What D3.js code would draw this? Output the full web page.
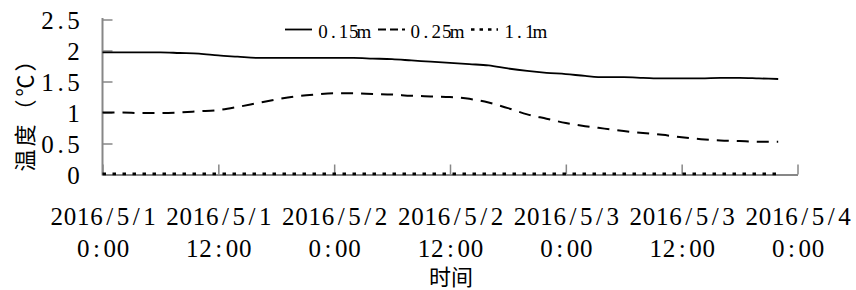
<!DOCTYPE html>
<html>
<head>
<meta charset="utf-8">
<script src="https://cdn.jsdelivr.net/npm/d3@7"></script>
<style>
html, body { margin: 0; padding: 0; background: #fff; }
svg { display: block; }
</style>
</head>
<body>
<svg id="chart" width="856" height="290"></svg>
<script>
// ---- data ----
const hours = [0,2,4,6,8,10,12,14,16,18,20,22,24,26,28,30,32,34,36,38,40,42,44,46,48,50,52,54,56,58,60,62,64,66,68,70];
const series015 = [1.97,1.97,1.97,1.97,1.96,1.95,1.92,1.90,1.88,1.88,1.88,1.88,1.88,1.88,1.87,1.86,1.84,1.82,1.80,1.78,1.76,1.71,1.67,1.64,1.62,1.59,1.57,1.57,1.56,1.55,1.55,1.55,1.56,1.56,1.55,1.54];
const series025 = [1.00,1.00,0.99,0.99,1.00,1.02,1.04,1.09,1.15,1.21,1.26,1.29,1.31,1.31,1.30,1.29,1.27,1.26,1.25,1.22,1.16,1.07,0.97,0.90,0.83,0.78,0.74,0.70,0.67,0.64,0.60,0.57,0.55,0.54,0.53,0.53];
const series110 = [0.01,0.01,0.01,0.01,0.01,0.01,0.01,0.01,0.01,0.01,0.01,0.01,0.01,0.01,0.01,0.01,0.01,0.01,0.01,0.01,0.01,0.01,0.01,0.01,0.01,0.01,0.01,0.01,0.01,0.01,0.01,0.01,0.01,0.01,0.01,0.01];
const seriesNames = ["0.15m","0.25m","1.1m"];
const xTickHours = [0,12,24,36,48,60,72];
const xTickDates = ["2016/5/1","2016/5/1","2016/5/2","2016/5/2","2016/5/3","2016/5/3","2016/5/4"];
const xTickTimes = ["0:00","12:00","0:00","12:00","0:00","12:00","0:00"];
const yTicks = [0,0.5,1,1.5,2,2.5];
const yTickLabels = ["0","0.5","1","1.5","2","2.5"];
const yTitle = "温度（℃）";
const xTitle = "时间";

// ---- layout ----
const SERIF = "Liberation Serif";
const CJK = "Noto Sans CJK SC";
const svg = d3.select("#chart");
const x = d3.scaleLinear().domain([0,72]).range([102.5,797.5]);
const y = d3.scaleLinear().domain([0,2.5]).range([174.5,19.5]);
const axisColor = "#878787";

// place each character in a fixed-width cell (half-width grid like the original font)
function gridX(str, left, cell) {
  return Array.from(str).map((c,i) => (left + (i + 0.5) * cell).toFixed(2)).join(" ");
}

// y axis
const yAxis = d3.axisLeft(y).tickValues(yTicks).tickSizeInner(-10).tickSizeOuter(0).tickFormat("");
const gy = svg.append("g").attr("transform","translate(102.5,0)").call(yAxis);
gy.attr("font-family",null).attr("font-size",null);
gy.select(".domain").attr("stroke",axisColor).attr("stroke-width",2).attr("d","M0,18V175.5");
gy.selectAll(".tick line").attr("stroke",axisColor).attr("stroke-width",1.5);
gy.selectAll(".tick text").remove();
gy.selectAll(".tick").each(function(d,i){
  const t = yTickLabels[i];
  const cell = 13;
  d3.select(this).append("text")
    .attr("x", gridX(t, -22.5 - t.length*cell, cell))
    .attr("dy","0.34em").attr("text-anchor","middle")
    .style("font-family",SERIF).style("font-size","25px").attr("fill","#000").text(t);
});

// x axis
const xAxis = d3.axisBottom(x).tickValues(xTickHours).tickSizeInner(-10).tickSizeOuter(0).tickFormat("");
const gx = svg.append("g").attr("transform","translate(0,174.5)").call(xAxis);
gx.attr("font-family",null).attr("font-size",null);
gx.select(".domain").attr("stroke",axisColor).attr("stroke-width",2);
gx.selectAll(".tick line").attr("stroke",axisColor).attr("stroke-width",1.5);
gx.selectAll(".tick text").remove();
gx.selectAll(".tick").each(function(d,i){
  const g = d3.select(this);
  const cell = 13.25;
  const a = xTickDates[i], b = xTickTimes[i];
  g.append("text").attr("y",50.5).attr("x",gridX(a,-a.length*cell/2,cell)).attr("text-anchor","middle")
    .style("font-family",SERIF).style("font-size","25px").attr("fill","#000").text(a);
  g.append("text").attr("y",82.5).attr("x",gridX(b,-b.length*cell/2,cell)).attr("text-anchor","middle")
    .style("font-family",SERIF).style("font-size","25px").attr("fill","#000").text(b);
});

// titles
svg.append("text").attr("transform","translate(22.5,110.5) rotate(-90)")
  .attr("x", gridX(yTitle, -62.5, 25)).attr("text-anchor","middle")
  .attr("dominant-baseline","central").style("font-family",CJK).style("font-size","22px").attr("fill","#000")
  .text(yTitle);
svg.append("text").attr("x",451).attr("y",285).attr("text-anchor","middle").style("font-family",CJK)
  .style("font-size","22px").attr("fill","#000").text(xTitle);

// lines
const styles = [
  {dash:null, width:1.8},
  {dash:"12,8", width:2},
  {dash:"3.5,6.5", width:2.6}
];
const allSeries = [series015, series025, series110];
const line = d3.line().x(d=>x(d[0])).y(d=>y(d[1])).curve(d3.curveMonotoneX);
allSeries.forEach((s,k)=>{
  svg.append("path").datum(hours.map((h,i)=>[h,s[i]]))
    .attr("d",line).attr("fill","none").attr("stroke","#000")
    .attr("stroke-width",styles[k].width)
    .attr("stroke-dasharray",styles[k].dash);
});

// legend
const legendItems = [
  {x1:285,x2:312,tx:318,cell:10.2},
  {x1:378,x2:405,tx:410,cell:10.5},
  {x1:471,x2:498,tx:504,cell:10.25}
];
legendItems.forEach((it,k)=>{
  svg.append("line").attr("x1",it.x1).attr("x2",it.x2).attr("y1",29.5).attr("y2",29.5)
    .attr("stroke","#000").attr("stroke-width",styles[k].width)
    .attr("stroke-dasharray",k===1?"8,4":(k===2?"3.5,5":null));
  svg.append("text").attr("x",gridX(seriesNames[k],it.tx,it.cell)).attr("y",38).attr("text-anchor","middle")
    .style("font-family",SERIF).style("font-size","19px").attr("fill","#000").text(seriesNames[k]);
});
</script>
</body>
</html>
